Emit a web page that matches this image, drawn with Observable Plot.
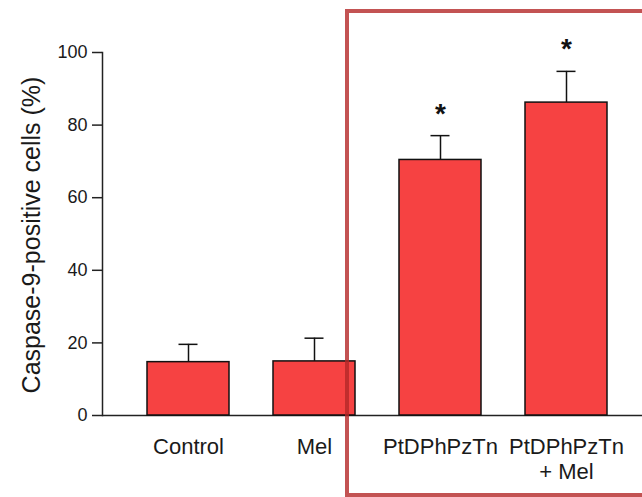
<!DOCTYPE html>
<html><head><meta charset="utf-8">
<script src="https://cdn.jsdelivr.net/npm/d3@7"></script>
<script src="https://cdn.jsdelivr.net/npm/@observablehq/plot@0.6"></script>
<style>
body{margin:0;background:#fff;}
#wrap{position:relative;width:642px;height:497px;overflow:hidden;font-family:"Liberation Sans",Arial,Helvetica,sans-serif;}
#box{position:absolute;left:345px;top:9px;width:400px;height:480px;border:4px solid rgba(180,40,40,0.8);pointer-events:none;z-index:2;}
#wrap svg{position:absolute;left:0;top:0;}
</style></head><body>
<div id="wrap"><div id="box"></div></div>
<script>
const groups = ["Control", "Mel", "PtDPhPzTn", "PtDPhPzTn\n+ Mel"];
const means = [14.7, 14.9, 70.4, 86.2];
const errors = [4.9, 6.4, 6.7, 8.6];
const significance = ["", "", "*", "*"];
const yTicks = [0, 20, 40, 60, 80, 100];
const yTitle = "Caspase-9-positive cells (%)";

const data = groups.map((g, i) => ({group: g, mean: means[i], err: errors[i], top: means[i] + errors[i], sig: significance[i]}));

const chart = Plot.plot({
  width: 642, height: 497,
  marginTop: 52, marginBottom: 82, marginLeft: 102, marginRight: 0,
  style: {fontFamily: "'Liberation Sans', Arial, Helvetica, sans-serif", background: "transparent", color: "#1a1a1a"},
  x: {domain: groups, paddingInner: 0.346, paddingOuter: 0.299, align: 0.568, label: null},
  y: {domain: [0, 100], label: null},
  marks: [
    Plot.frame({anchor: "left", stroke: "#222", strokeWidth: 1.5}),
    Plot.ruleY([0], {stroke: "#222", strokeWidth: 1.5}),
    Plot.ruleX(data, {x: "group", y1: "mean", y2: "top", stroke: "#111", strokeWidth: 1.5}),
    Plot.tickY(data, {x: "group", y: "top", insetLeft: 31.5, insetRight: 31.5, stroke: "#111", strokeWidth: 1.5}),
    Plot.barY(data, {x: "group", y: "mean", fill: "#f64242", stroke: "#111", strokeWidth: 1.5}),
    Plot.text(data, {x: "group", y: "top", text: "sig", dy: -22, fontSize: 28, fontWeight: "bold", fill: "#111"}),
    Plot.axisY({ticks: yTicks, tickSize: 10, tickPadding: 5, fontSize: 18, label: null, stroke: "#222", strokeWidth: 1.5}),
    Plot.text([yTitle], {frameAnchor: "left", textAnchor: "middle", lineAnchor: "middle", text: d => d, rotate: -90, dx: -71, dy: 1, fontSize: 25, fill: "#1a1a1a"}),
    Plot.axisX({tickSize: 0, tickPadding: 21, fontSize: 22, lineHeight: 1.12, label: null})
  ]
});
document.getElementById("wrap").prepend(chart);
</script>
</body></html>
